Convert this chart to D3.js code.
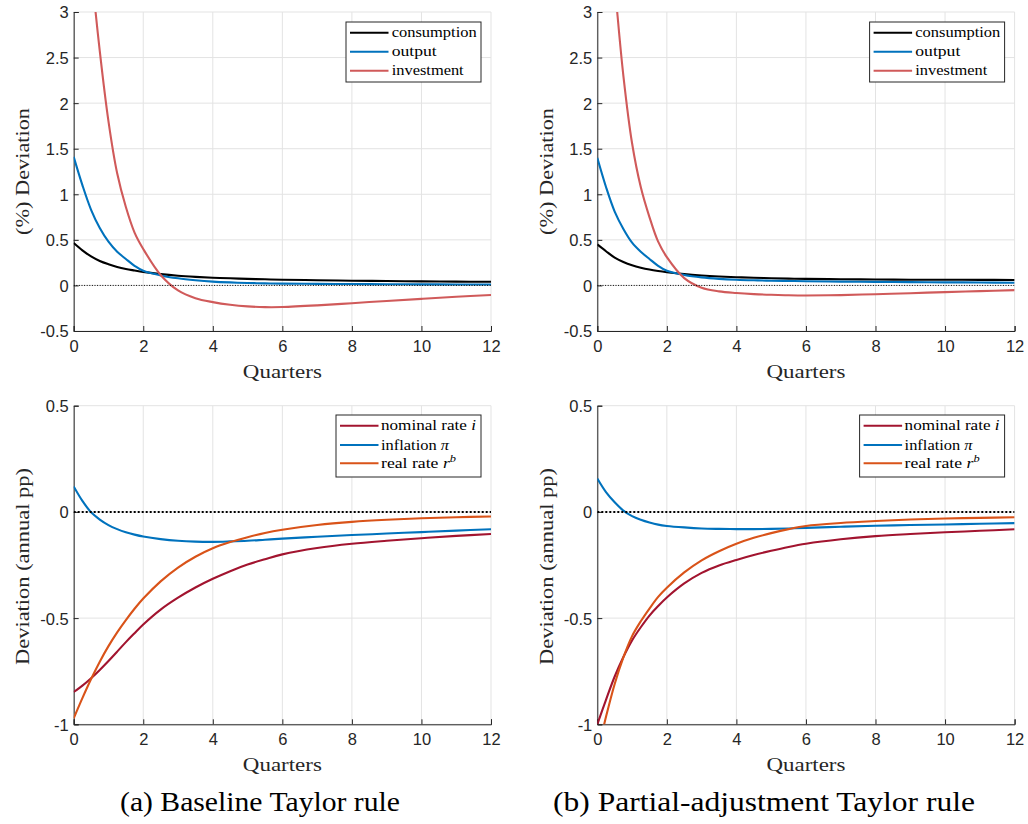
<!DOCTYPE html>
<html><head><meta charset="utf-8">
<script src="https://cdn.jsdelivr.net/npm/d3@7"></script>
<style>body{margin:0;background:#fff;} svg{display:block;}</style>
</head><body>
<svg id="c" width="1028" height="824"></svg>
<script>
// ---------- data ----------
const quarters = [0,0.25,0.5,0.75,1,1.25,1.5,1.75,2,2.5,3,3.5,4,4.5,5,5.5,6,7,8,9,10,11,12];

// (a) Baseline Taylor rule
const consumptionA = [0.465,0.385,0.318,0.268,0.232,0.202,0.180,0.164,0.149,0.124,0.106,0.094,0.085,0.078,0.072,0.067,0.063,0.057,0.052,0.048,0.045,0.042,0.040];
const outputA      = [1.41,1.10,0.83,0.63,0.48,0.37,0.29,0.215,0.16,0.11,0.078,0.057,0.042,0.033,0.027,0.023,0.020,0.017,0.015,0.013,0.012,0.011,0.010];
const investmentA  = [5.9,4.6,3.5,2.57,1.80,1.23,0.86,0.58,0.40,0.115,-0.055,-0.14,-0.183,-0.212,-0.230,-0.238,-0.237,-0.219,-0.195,-0.170,-0.147,-0.125,-0.105];
const nominalA     = [-0.848,-0.818,-0.783,-0.744,-0.702,-0.658,-0.613,-0.571,-0.530,-0.460,-0.404,-0.356,-0.315,-0.279,-0.248,-0.223,-0.200,-0.170,-0.150,-0.136,-0.124,-0.113,-0.104];
const inflationA   = [0.12,0.052,-0.002,-0.036,-0.062,-0.081,-0.096,-0.107,-0.116,-0.128,-0.136,-0.140,-0.141,-0.139,-0.136,-0.131,-0.126,-0.117,-0.109,-0.102,-0.095,-0.088,-0.082];
const realRateA    = [-0.972,-0.877,-0.787,-0.705,-0.632,-0.567,-0.509,-0.456,-0.408,-0.327,-0.262,-0.211,-0.171,-0.142,-0.119,-0.099,-0.084,-0.062,-0.047,-0.037,-0.030,-0.025,-0.022];

// (b) Partial-adjustment Taylor rule
const consumptionB = [0.45,0.375,0.305,0.258,0.222,0.195,0.174,0.158,0.145,0.124,0.109,0.098,0.090,0.084,0.079,0.075,0.072,0.068,0.065,0.063,0.062,0.061,0.060];
const outputB      = [1.40,1.08,0.81,0.62,0.47,0.37,0.29,0.215,0.16,0.115,0.088,0.072,0.062,0.056,0.052,0.049,0.046,0.042,0.039,0.036,0.034,0.032,0.030];
const investmentB  = [5.5,4.3,3.3,2.30,1.56,1.08,0.75,0.48,0.31,0.08,-0.025,-0.065,-0.083,-0.095,-0.103,-0.108,-0.110,-0.106,-0.096,-0.085,-0.073,-0.062,-0.052];
const nominalB     = [-1.0,-0.885,-0.775,-0.683,-0.605,-0.543,-0.488,-0.443,-0.403,-0.337,-0.287,-0.252,-0.226,-0.203,-0.183,-0.165,-0.150,-0.129,-0.114,-0.104,-0.096,-0.089,-0.082];
const inflationB   = [0.157,0.093,0.045,0.006,-0.020,-0.037,-0.050,-0.060,-0.066,-0.073,-0.078,-0.080,-0.081,-0.081,-0.080,-0.078,-0.075,-0.070,-0.065,-0.062,-0.059,-0.056,-0.053];
const realRateB    = [-1.14,-0.965,-0.81,-0.685,-0.585,-0.515,-0.455,-0.40,-0.357,-0.285,-0.228,-0.185,-0.150,-0.122,-0.100,-0.081,-0.066,-0.052,-0.043,-0.036,-0.031,-0.028,-0.025];

const xTicks = [0,2,4,6,8,10,12];
const topYTicks = [-0.5,0,0.5,1,1.5,2,2.5,3];
const botYTicks = [-1,-0.5,0,0.5];
const realLegend = ["consumption","output","investment"];
const rateLegend = ["nominal rate ","inflation ","real rate "];
const captions = ["(a) Baseline Taylor rule","(b) Partial-adjustment Taylor rule"];

// ---------- drawing ----------
const svg = d3.select("#c");
const serif = "'Liberation Serif','Times New Roman',serif";
const sans = "'Liberation Sans',Arial,Helvetica,sans-serif";
const axisCol = "#262626";
const colors = {cons:"#000000", out:"#0072BD", inv:"#D05A5A", nom:"#A2142F", infl:"#0072BD", real:"#D95319"};

function drawPanel(ox, id, cfg) {
  const x = d3.scaleLinear().domain([0,12]).range([73.7+ox, 491+ox]);
  const y = d3.scaleLinear().domain(cfg.domain).range(cfg.range);
  const g = svg.append("g");
  const [xl, xr] = x.range();
  const [yb, yt] = y.range();

  svg.append("clipPath").attr("id","clip"+id).append("rect")
    .attr("x",xl).attr("y",yt).attr("width",xr-xl).attr("height",yb-yt);

  // grid
  g.selectAll(".gx").data(xTicks).enter().append("line")
    .attr("x1",d=>x(d)).attr("x2",d=>x(d)).attr("y1",yt).attr("y2",yb)
    .attr("stroke","#e3e3e3").attr("stroke-width",1);
  g.selectAll(".gy").data(cfg.ticks).enter().append("line")
    .attr("y1",d=>y(d)).attr("y2",d=>y(d)).attr("x1",xl).attr("x2",xr)
    .attr("stroke","#e3e3e3").attr("stroke-width",1);

  // axes (inward ticks)
  const ax = g.append("g").attr("transform",`translate(0,${yb})`)
    .call(d3.axisBottom(x).tickValues(xTicks).tickSize(-5).tickPadding(9).tickFormat(d=>String(d)));
  const ay = g.append("g").attr("transform",`translate(${xl},0)`)
    .call(d3.axisLeft(y).tickValues(cfg.ticks).tickSize(-5).tickPadding(5).tickFormat(d=>String(d)));
  [ax,ay].forEach(a=>{
    a.select(".domain").attr("stroke",axisCol).attr("stroke-width",1);
    a.selectAll(".tick line").attr("stroke",axisCol).attr("stroke-width",1);
    a.selectAll(".tick text").attr("fill",axisCol).attr("font-family",sans).attr("font-size","16.5px");
  });
  ax.selectAll(".tick text").attr("dy","0.72em");
  ay.selectAll(".tick text").attr("dy","0.36em");

  // series
  const line = d3.line().x((d,i)=>x(quarters[i])).y(d=>y(d)).curve(d3.curveCatmullRom.alpha(0.5));
  const sg = g.append("g").attr("clip-path",`url(#clip${id})`);
  cfg.series.forEach(s=>{
    sg.append("path").datum(s.values).attr("d",line)
      .attr("fill","none").attr("stroke",s.color).attr("stroke-width",2.1)
      .attr("stroke-linejoin","round");
  });
  // zero line (dotted)
  sg.append("line").attr("x1",xl).attr("x2",xr).attr("y1",y(0)).attr("y2",y(0))
    .attr("stroke","#000").attr("stroke-width",cfg.zeroW).attr("stroke-dasharray",cfg.zeroDash);

  // x label
  g.append("text").attr("x",(xl+xr)/2).attr("y",cfg.xLabelY).attr("text-anchor","middle")
    .attr("font-family",serif).attr("font-size","18px").attr("fill","#262626")
    .attr("textLength",79).attr("lengthAdjust","spacingAndGlyphs").text("Quarters");
  // y label
  g.append("text").attr("transform",`translate(${29+ox},${cfg.yLabelC}) rotate(-90)`)
    .attr("text-anchor","middle").attr("font-family",serif).attr("font-size","18px").attr("fill","#262626")
    .attr("textLength",cfg.yLabelLen).attr("lengthAdjust","spacingAndGlyphs").text(cfg.yLabel);

  // legend
  const L = cfg.legend;
  const lg = g.append("g");
  lg.append("rect").attr("x",L.x+ox).attr("y",L.y).attr("width",L.w).attr("height",L.h)
    .attr("fill","#fff").attr("stroke",axisCol).attr("stroke-width",1);
  cfg.series.forEach((s,i)=>{
    const ry = L.rows[i];
    lg.append("line").attr("x1",L.lx0+ox).attr("x2",L.lx1+ox).attr("y1",ry).attr("y2",ry)
      .attr("stroke",s.color).attr("stroke-width",2.1);
    const t = lg.append("text").attr("x",L.tx+ox).attr("y",ry+4.5)
      .attr("font-family",serif).attr("font-size","15px").attr("fill","#000");
    t.append("tspan").text(s.label);
    if (s.math) {
      t.append("tspan").attr("font-style","italic").text(s.math);
      if (s.sup) t.append("tspan").attr("font-style","italic").attr("font-size","10.5px").attr("dy","-6").text(s.sup);
    }
    if (s.len) t.attr("textLength",s.len).attr("lengthAdjust","spacingAndGlyphs");
  });
}

const topRange = [331, 12], botRange = [724.3, 405.7];
const sets = [
  {ox:0, cons:consumptionA, out:outputA, inv:investmentA, nom:nominalA, infl:inflationA, real:realRateA},
  {ox:523.6, cons:consumptionB, out:outputB, inv:investmentB, nom:nominalB, infl:inflationB, real:realRateB}
];
sets.forEach((S,k)=>{
  drawPanel(S.ox, "t"+k, {
    domain:[-0.5,3], range:topRange, ticks:topYTicks, zeroW:1, zeroDash:"1,1.6",
    xLabelY:378, yLabel:"(%) Deviation", yLabelC:171.5, yLabelLen:127,
    legend:{x:346,y:22,w:135,h:60,rows:[32.7,51.7,70.7],lx0:350,lx1:388.5,tx:391.7},
    series:[
      {values:S.cons, color:colors.cons, label:realLegend[0], len:85},
      {values:S.out, color:colors.out, label:realLegend[1], len:45},
      {values:S.inv, color:colors.inv, label:realLegend[2], len:72}
    ]
  });
  drawPanel(S.ox, "b"+k, {
    domain:[-1,0.5], range:botRange, ticks:botYTicks, zeroW:2, zeroDash:"2,2",
    xLabelY:771, yLabel:"Deviation (annual pp)", yLabelC:566.5, yLabelLen:197,
    legend:{x:336,y:415,w:145,h:62,rows:[425.7,445,463.3],lx0:340,lx1:378.5,tx:381},
    series:[
      {values:S.nom, color:colors.nom, label:rateLegend[0], math:"i", len:95},
      {values:S.infl, color:colors.infl, label:rateLegend[1], math:"π", len:68},
      {values:S.real, color:colors.real, label:rateLegend[2], math:"r", sup:"b", len:75}
    ]
  });
});

// captions
svg.selectAll(".cap").data(captions).enter().append("text")
  .attr("x",(d,i)=>i===0?260:764).attr("y",811).attr("text-anchor","middle")
  .attr("font-family","'Liberation Serif','Times New Roman',serif").attr("font-size","27px").attr("fill","#000")
  .attr("textLength",(d,i)=>i===0?280:422).attr("lengthAdjust","spacingAndGlyphs")
  .text(d=>d);
</script>
</body></html>
